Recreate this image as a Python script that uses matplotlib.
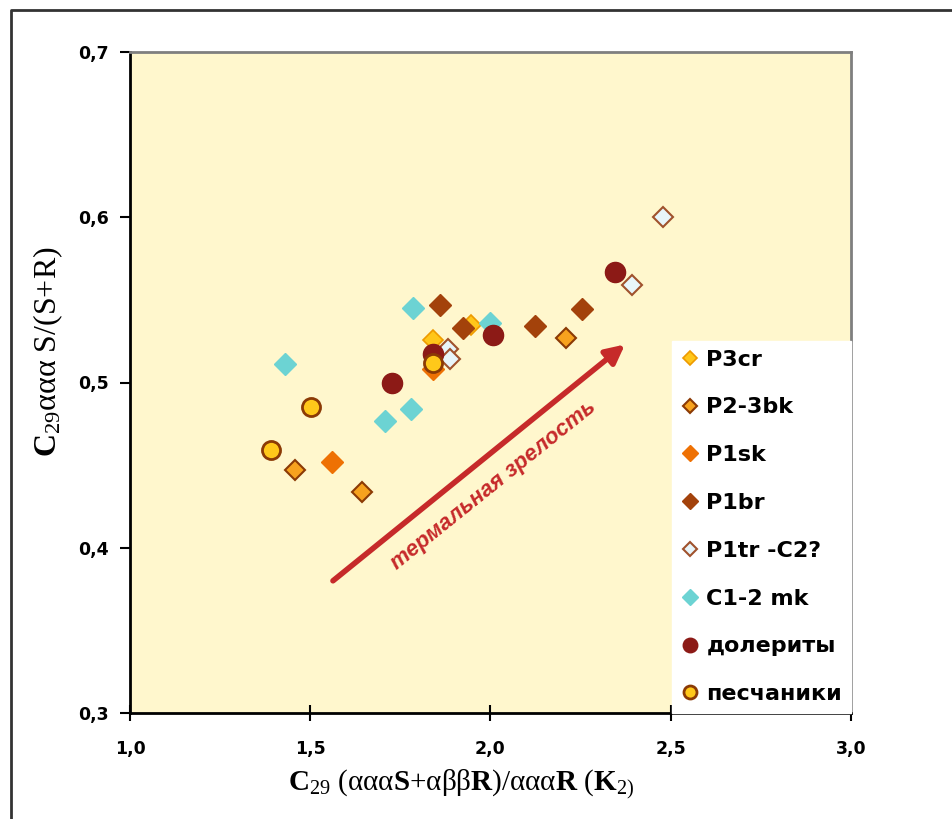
import matplotlib
matplotlib.use('Agg')
import matplotlib.pyplot as plt
from matplotlib.lines import Line2D

plt.rcParams['font.family'] = ['DejaVu Sans']
plt.rcParams['mathtext.fontset'] = 'custom'
plt.rcParams['mathtext.rm'] = 'Liberation Serif'
plt.rcParams['mathtext.bf'] = 'Liberation Serif:bold'
plt.rcParams['mathtext.it'] = 'Liberation Serif:italic'

# data
p3cr_x = [1.840, 1.946]
p3cr_y = [0.526, 0.535]
p23bk_x = [1.458, 1.644, 2.209]
p23bk_y = [0.447, 0.434, 0.527]
p1sk_x = [1.560, 1.840]
p1sk_y = [0.452, 0.508]
p1br_x = [1.860, 1.924, 2.123, 2.254]
p1br_y = [0.547, 0.533, 0.534, 0.5445]
p1tr_x = [1.882, 1.889, 2.392, 2.478]
p1tr_y = [0.520, 0.514, 0.559, 0.600]
c12mk_x = [1.430, 1.785, 1.999, 1.707, 1.779]
c12mk_y = [0.511, 0.545, 0.536, 0.477, 0.484]
dolerite_x = [1.727, 1.840, 2.007, 2.345]
dolerite_y = [0.500, 0.517, 0.529, 0.567]
sand_x = [1.391, 1.502, 1.840]
sand_y = [0.459, 0.485, 0.512]

x_ticks = [1.0, 1.5, 2.0, 2.5, 3.0]
x_labels = ['1,0', '1,5', '2,0', '2,5', '3,0']
y_ticks = [0.3, 0.4, 0.5, 0.6, 0.7]
y_labels = ['0,3', '0,4', '0,5', '0,6', '0,7']

arrow_start = (1.563, 0.380)
arrow_end = (2.373, 0.523)

fig = plt.figure(figsize=(9.52, 8.19), dpi=100)
ax = fig.add_axes([130/952, 1-713/819, 721/952, 661/819])
ax.set_facecolor('#FFF7CD')

# series, same order as the original (later ones on top)
ax.plot(p3cr_x, p3cr_y, 'D', ms=10, mfc='#FFC61A', mec='#EE9A00', mew=1.2, label='P3cr', ls='none')
ax.plot(p23bk_x, p23bk_y, 'D', ms=10.5, mfc='#F7A21E', mec='#8B3A05', mew=1.5, label='P2-3bk', ls='none')
ax.plot(p1sk_x, p1sk_y, 'D', ms=11, mfc='#EE7104', mec='#EE7104', mew=1, label='P1sk', ls='none')
ax.plot(p1br_x, p1br_y, 'D', ms=11, mfc='#A3420B', mec='#A3420B', mew=1, label='P1br', ls='none')
ax.plot(p1tr_x, p1tr_y, 'D', ms=10, mfc='#E8F5FA', mec='#A0522D', mew=1.5, label='P1tr -C2?', ls='none')
ax.plot(c12mk_x, c12mk_y, 'D', ms=11, mfc='#6CD3D3', mec='#6CD3D3', mew=1, label='C1-2 mk', ls='none')
ax.plot(dolerite_x, dolerite_y, 'o', ms=14.5, mfc='#8C1A16', mec='#8C1A16', mew=1, label='долериты', ls='none')
ax.plot(sand_x, sand_y, 'o', ms=13, mfc='#FFC81A', mec='#8B3A05', mew=2, label='песчаники', ls='none')

# arrow + caption
ax.annotate('', xy=arrow_end, xytext=arrow_start,
            arrowprops=dict(arrowstyle='-|>', lw=4, color='#C62A2A', mutation_scale=28, shrinkA=0, shrinkB=0))
ax.text(2.007, 0.438, 'термальная зрелость', color='#C62A2A', fontsize=16, fontstyle='italic',
        fontweight='bold', family='Liberation Sans', rotation=38.8, rotation_mode='anchor',
        ha='center', va='center')

ax.set_xlim(1.0, 3.0)
ax.set_ylim(0.3, 0.7)
ax.set_xticks(x_ticks)
ax.set_xticklabels(x_labels, fontsize=12.5, fontweight='bold')
ax.set_yticks(y_ticks)
ax.set_yticklabels(y_labels, fontsize=12.5, fontweight='bold')
ax.tick_params(axis='x', direction='inout', length=11, width=1.5, pad=14)
ax.tick_params(axis='y', direction='out', length=7, width=1.5, pad=8)

for s in ['left', 'bottom']:
    ax.spines[s].set_linewidth(2)
    ax.spines[s].set_color('black')
for s in ['top', 'right']:
    ax.spines[s].set_linewidth(2)
    ax.spines[s].set_color('#7F7F7F')

ax.set_xlabel(r'$\mathbf{C}_{29}$ (ααα$\mathbf{S}$+αββ$\mathbf{R}$)/ααα$\mathbf{R}$ ($\mathbf{K}_{2)}$',
              fontsize=21, family='Liberation Serif')
ax.xaxis.set_label_coords(0.459, -0.082)
ax.set_ylabel(r'$\mathbf{C}_{29}$ααα S/(S+R)', fontsize=23, family='Liberation Serif')
ax.yaxis.set_label_coords(-0.09, 0.546)

leg = ax.legend(loc='lower right', bbox_to_anchor=(1, 0), borderaxespad=0, frameon=True,
                fancybox=False, prop={'size': 16, 'weight': 'bold'}, markerscale=0.72,
                handlelength=0.8, handletextpad=0.34, labelspacing=1.25, borderpad=0.4)
leg.get_frame().set_facecolor('white')
leg.get_frame().set_edgecolor('white')
leg.get_frame().set_alpha(1)

# outer frame on top and left
fig.add_artist(Line2D([11/952, 11/952, 1], [0, 1-10/819, 1-10/819], color='#333333', lw=2))

fig.savefig('out.png', dpi=100, facecolor='white')
